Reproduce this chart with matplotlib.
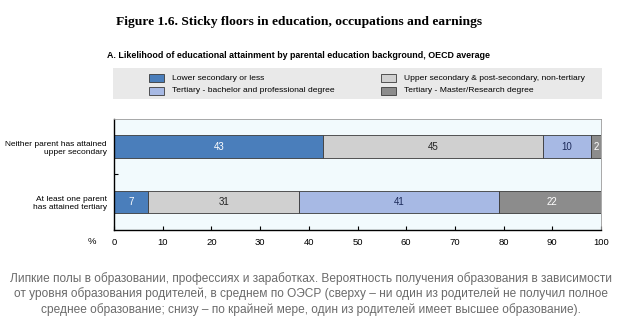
import matplotlib
matplotlib.use('Agg')
import matplotlib.pyplot as plt
from matplotlib.patches import Rectangle
from matplotlib.ticker import FixedLocator
import numpy as np

# ── data ──────────────────────────────────────────────────────────────────────
groups = ['Neither parent has attained\nupper secondary',
          'At least one parent\nhas attained tertiary']
categories = ['Lower secondary or less',
              'Upper secondary & post-secondary, non-tertiary',
              'Tertiary - bachelor and professional degree',
              'Tertiary - Master/Research degree']
values = [
    [43, 45, 10, 2],
    [7, 31, 41, 22],
]
colors = ['#4a7ebb', '#d0d0d0', '#a7b9e4', '#8c8c8c']
label_colors = ['white', '#222222', '#1c2a5a', 'white']
xticks = list(range(0, 101, 10))

title = 'Figure 1.6. Sticky floors in education, occupations and earnings'
subtitle = 'A. Likelihood of educational attainment by parental education background, OECD average'
caption = ('Липкие полы в образовании, профессиях и заработках. Вероятность получения образования в зависимости\n'
           'от уровня образования родителей, в среднем по ОЭСР (сверху – ни один из родителей не получил полное\n'
           'среднее образование; снизу – по крайней мере, один из родителей имеет высшее образование).')

plt.rcParams['font.family'] = ['Liberation Sans', 'DejaVu Sans']

W, H = 624, 330
fig = plt.figure(figsize=(W / 100, H / 100), dpi=100)

def fx(px):
    return px / W

def fy(py):
    return 1 - py / H

# ── axes ──────────────────────────────────────────────────────────────────────
ax = fig.add_axes([fx(114), fy(229.5), fx(601) - fx(114), fy(119) - fy(229.5)])
ax.set_facecolor('#f2fafd')

y = np.arange(len(groups))
left = np.zeros(len(groups))
vals = np.array(values, dtype=float)
for j, cat in enumerate(categories):
    bars = ax.barh(y, vals[:, j], left=left, height=0.41, color=colors[j],
                   edgecolor='#3a3a3a', linewidth=0.6, label=cat)
    for i, b in enumerate(bars):
        ax.text(left[i] + vals[i, j] / 2, y[i], f'{int(vals[i, j])}',
                ha='center', va='center', fontsize=7, color=label_colors[j])
    left += vals[:, j]

ax.set_xlim(0, 100)
ax.set_ylim(1.5, -0.5)
ax.set_yticks(y)
ax.set_yticklabels(groups, fontsize=6.0, linespacing=1.3)
ax.yaxis.set_minor_locator(FixedLocator([0.5]))
ax.tick_params(axis='y', which='major', length=0, pad=5)
ax.tick_params(axis='y', which='minor', length=3, direction='in', width=0.8)
ax.set_xticks(xticks)
ax.set_xticklabels([str(t) for t in xticks], fontsize=6.8)
ax.tick_params(axis='x', length=3, direction='in', width=0.8, pad=6)
for s in ['top', 'right']:
    ax.spines[s].set_color('#9a9a9a')
    ax.spines[s].set_linewidth(0.6)
for s in ['left', 'bottom']:
    ax.spines[s].set_color('black')
    ax.spines[s].set_linewidth(1.0)
fig.text(fx(92), fy(241.5), '%', fontsize=6.8, ha='center', va='center')

# ── titles ────────────────────────────────────────────────────────────────────
fig.text(fx(299), fy(22), title, fontsize=9.7, fontweight='bold',
         family=['Liberation Serif', 'DejaVu Serif'], ha='center', va='center')
fig.text(fx(107), fy(55), subtitle, fontsize=6.4, fontweight='bold',
         ha='left', va='center')

# ── legend box ────────────────────────────────────────────────────────────────
fig.patches.append(Rectangle((fx(113), fy(99)), fx(602) - fx(113), fy(68) - fy(99),
                             transform=fig.transFigure, facecolor='#e9e9e9',
                             edgecolor='none', zorder=0))
leg_pos = [(149, 78), (381, 78), (149, 91), (381, 91)]
for j, cat in enumerate(categories):
    px, py = leg_pos[j]
    fig.patches.append(Rectangle((fx(px), fy(py + 4)), fx(15), fy(0) - fy(8),
                                 transform=fig.transFigure, facecolor=colors[j],
                                 edgecolor='#3a3a3a', linewidth=0.6))
    fig.text(fx(px + 23), fy(py), cat, fontsize=6.1, ha='left', va='center')

# ── caption ───────────────────────────────────────────────────────────────────
fig.text(fx(311), fy(294), caption, fontsize=8.6, color='#6a6a6a',
         family=['Liberation Sans', 'DejaVu Sans'], ha='center', va='center',
         linespacing=1.25)

fig.savefig('out.png', dpi=100)
